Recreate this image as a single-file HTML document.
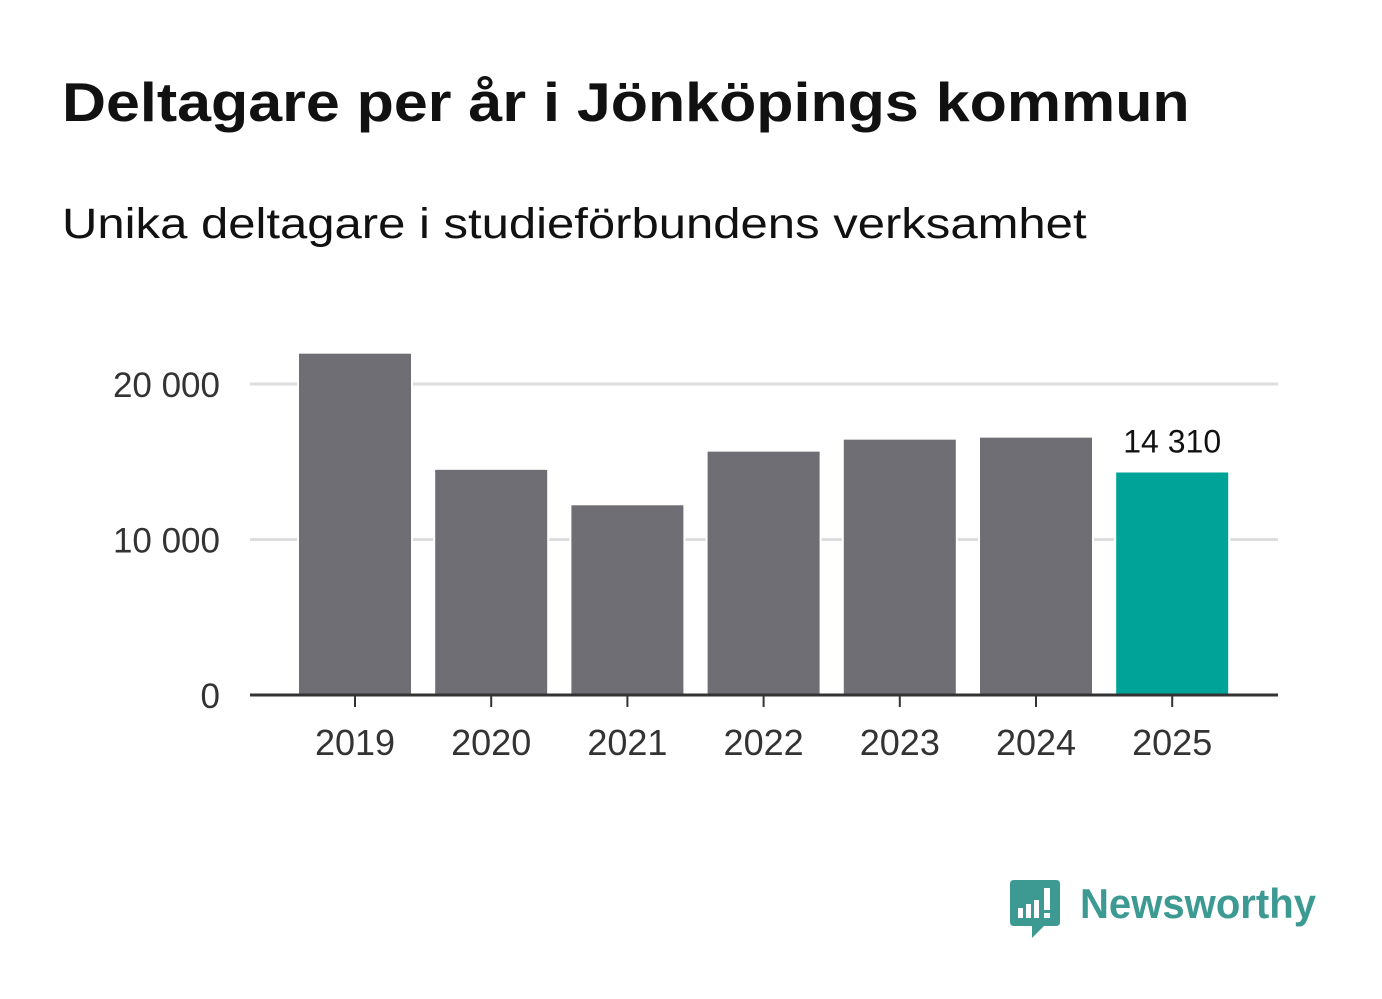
<!DOCTYPE html>
<html><head><meta charset="utf-8"><style>
body{margin:0;width:1382px;height:999px;background:#fff;font-family:"Liberation Sans",sans-serif;overflow:hidden;position:relative}
h1{position:absolute;left:62px;top:70px;margin:0;font-size:55px;font-weight:bold;color:#111;white-space:nowrap;transform-origin:0 0;transform:scaleX(1.108)}
.sub{position:absolute;left:62px;top:200px;font-size:43px;color:#111;white-space:nowrap;transform-origin:0 0;transform:scaleX(1.14)}
</style></head><body>
<h1>Deltagare per år i Jönköpings kommun</h1>
<div class="sub">Unika deltagare i studieförbundens verksamhet</div>
<svg id="chart" width="1382" height="999" style="position:absolute;left:0;top:0"></svg>
<svg style="position:absolute;left:1010px;top:880px" width="330" height="62">
<path d="M4 0 H46 Q50 0 50 4 V42 Q50 46 46 46 H34 L22 58 V46 H4 Q0 46 0 42 V4 Q0 0 4 0Z" fill="#3d9a93"/>
<rect x="8" y="28" width="5" height="10" fill="#fff"/><rect x="16" y="24" width="5" height="14" fill="#fff"/><rect x="24" y="20" width="5" height="18" fill="#fff"/><rect x="34" y="8" width="6" height="22" fill="#fff"/><rect x="34" y="33" width="6" height="5" fill="#fff"/>
<text x="70" y="38" font-size="42" font-weight="bold" fill="#3d9a93" textLength="236" lengthAdjust="spacingAndGlyphs" font-family="Liberation Sans,sans-serif">Newsworthy</text>
</svg>
<script>
const categories=["2019","2020","2021","2022","2023","2024","2025"];
const values=[21950,14480,12200,15650,16420,16550,14310];
const yTicks=[0,10000,20000];
const yTickLabels=["0","10 000","20 000"];
const svg=document.getElementById('chart');
const NS='http://www.w3.org/2000/svg';
const y0=695,pxPer=(695-384)/20000;
const y=v=>y0-v*pxPer;
const x=i=>299+i*136.2;
const bw=112;
function mk(t,a){const e=document.createElementNS(NS,t);for(const k in a)e.setAttribute(k,a[k]);svg.appendChild(e);return e;}
yTicks.forEach((t,i)=>{
 if(t>0){const g=mk('line',{x1:250,x2:1278,y1:y(t),y2:y(t),stroke:'#ddd','stroke-width':3});
 
 }
 const l=mk('text',{x:220,y:y(t)+13,'text-anchor':'end','font-size':35,fill:'#333','font-family':'Liberation Sans,sans-serif'});
 l.textContent=yTickLabels[i];
 
 
});
values.forEach((v,i)=>{
 const last=i===values.length-1;
 const b=mk('rect',{x:x(i),y:y(v),width:bw,height:y0-y(v),fill:last?'#00a398':'#6f6e74',stroke:'#fff','stroke-width':4,'paint-order':'stroke'});
 
 
 const tk=mk('line',{x1:x(i)+bw/2,x2:x(i)+bw/2,y1:y0,y2:y0+12,stroke:'#333','stroke-width':2});
 
 
 const t=mk('text',{x:x(i)+bw/2,y:y0+60,'text-anchor':'middle','font-size':36,fill:'#333','font-family':'Liberation Sans,sans-serif'});
 t.textContent=categories[i];
 
 
 if(last){const vl=mk('text',{x:x(i)+bw/2,y:y(v)-20,'text-anchor':'middle','font-size':32,fill:'#111','font-family':'Liberation Sans,sans-serif'});
 vl.textContent=String(v).replace(/\B(?=(\d{3})+(?!\d))/g,' ');
 
 }
});
const ax=mk('line',{x1:250,x2:1278,y1:y0,y2:y0,stroke:'#333','stroke-width':3});


</script>
</body></html>
